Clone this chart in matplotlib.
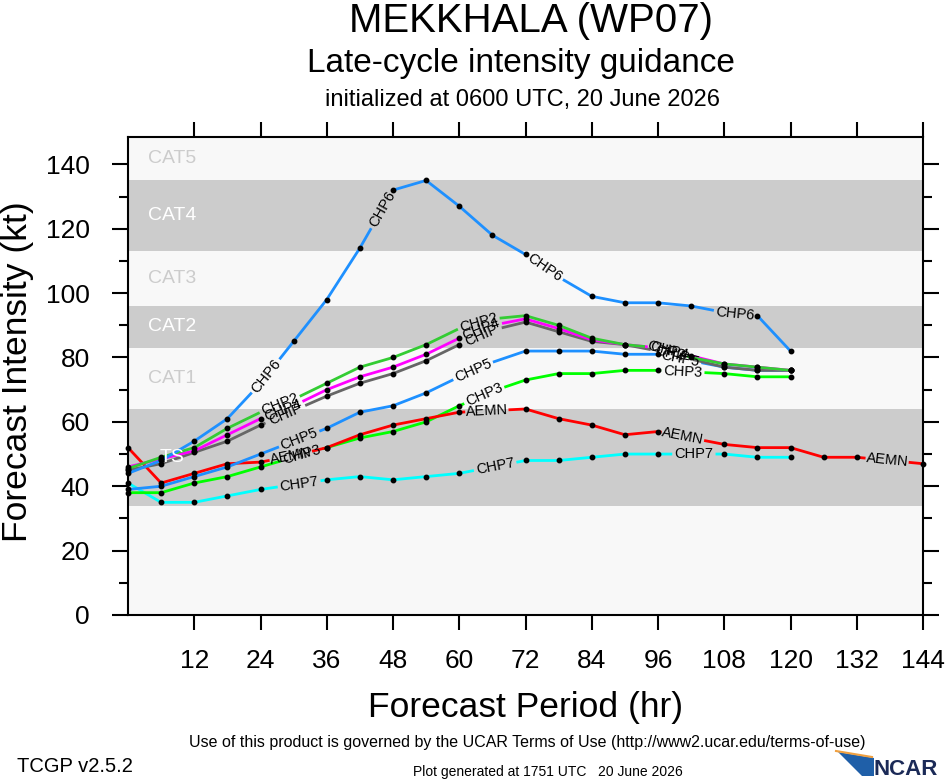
import numpy as np
import matplotlib.pyplot as plt
from matplotlib.patches import Polygon

plt.rcParams['font.family'] = ['Liberation Sans', 'DejaVu Sans']

# forecast hours
hours = np.arange(0, 121, 6)
hours_aemn = np.arange(0, 145, 6)

# intensity guidance (kt)
chp6 = [44, 48, 54, 61, 72, 85, 98, 114, 132, 135, 127, 118, 112, 105, 99, 97, 97, 96, 94, 93, 82]
chp2 = [45.5, 49, 52, 58, 63, 67, 72, 77, 80, 84, 89, 92, 93, 90, 86, 84, 83, 80, 78, 77, 76]
chp4 = [46, 48.5, 51, 56, 61, 65, 70, 74, 77, 81, 86, 90, 92, 89, 85.5, 84, 83, 80.5, 78, 77, 76]
chip = [45, 47, 50.5, 54, 59, 63.5, 68, 72, 75, 79, 84, 88.5, 91, 88, 85, 84, 82, 79.5, 77, 76, 76]
chp5 = [39, 40, 43, 46, 50, 54, 58, 63, 65, 69, 74, 78.5, 82, 82, 82, 81, 81, 79, 77, 76, 76]
chp3 = [38, 38, 41, 43, 46, 49, 52, 55, 57, 60, 65, 69.5, 73, 75, 75, 76, 76, 75.5, 75, 74, 74]
aemn = [52, 41, 44, 47, 47.5, 49.5, 52, 56, 59, 61, 63, 63.5, 64, 61, 59, 56, 57, 55, 53, 52, 52,
        49, 49, 48, 47]
chp7 = [41, 35, 35, 37, 39, 40.5, 42, 43, 42, 43, 44, 46, 48, 48, 49, 50, 50, 50, 50, 49, 49]

# intensity bands
band_names = ['TS', 'CAT1', 'CAT2', 'CAT3', 'CAT4', 'CAT5']
band_lo = [34, 64, 83, 96, 113, 135]
band_hi = [64, 83, 96, 113, 135, 148.5]

# name, x, y, colour, hours where the line label sits
series = [
    ('CHP7', hours, chp7, '#00ffff', [31, 66.5, 102.5]),
    ('CHP3', hours, chp3, '#00ff00', [31.5, 64.5, 100.5]),
    ('AEMN', hours_aemn, aemn, '#ff0000', [29.5, 65, 100.5, 137.5]),
    ('CHP5', hours, chp5, '#1e90ff', [31, 62.5, 100]),
    ('CHIP', hours, chip, '#666666', [28.5, 64, 98.5]),
    ('CHP4', hours, chp4, '#ff00ff', [28, 64, 98]),
    ('CHP2', hours, chp2, '#33cc33', [27.5, 63.5, 97.5]),
    ('CHP6', hours, chp6, '#1e90ff', [25, 46, 75.5, 110]),
]

fig = plt.figure(figsize=(9.46, 7.8), dpi=100)
ax = fig.add_axes([128 / 946, 165 / 780, 795 / 946, 478 / 780])
ax.set_facecolor('#f8f8f8')
ax.set_xlim(0, 144)
ax.set_ylim(0, 148.5)

for i, (name, lo, hi) in enumerate(zip(band_names, band_lo, band_hi)):
    if i % 2 == 0:
        ax.axhspan(lo, hi, color='#cccccc', lw=0, zorder=0)
        tcol = 'white'
    else:
        tcol = '#cccccc'
    ymid = (lo + hi) / 2 if name != 'CAT5' else 141.7
    ax.text(8, ymid, name, color=tcol, fontsize=14, ha='center', va='center', zorder=6)

to_data = ax.transData.inverted()

for name, hx, vals, col, lab_hours in series:
    pts = ax.transData.transform(np.column_stack([hx, vals]))
    seg = np.hypot(np.diff(pts[:, 0]), np.diff(pts[:, 1]))
    s = np.concatenate([[0], np.cumsum(seg)])
    gaps = []
    for hl in lab_hours:
        k = np.searchsorted(hx, hl) - 1
        k = min(max(k, 0), len(hx) - 2)
        f = (hl - hx[k]) / (hx[k + 1] - hx[k])
        p = pts[k] + f * (pts[k + 1] - pts[k])
        d = pts[k + 1] - pts[k]
        ang = np.degrees(np.arctan2(d[1], d[0]))
        sl = s[k] + f * seg[k]
        xy = to_data.transform(p)
        ax.text(xy[0], xy[1], name, fontsize=10.5, rotation=ang, rotation_mode='anchor',
                ha='center', va='center', zorder=5)
        half = 0.5 * 10.5 * 100 / 72 * len(name) * 0.64 + 3
        gaps.append((sl - half, sl + half))
    # line pieces outside the label gaps
    pieces = []
    start = 0.0
    for g0, g1 in sorted(gaps) + [(s[-1], s[-1])]:
        if g0 > start:
            ss = np.concatenate([[start], s[(s > start) & (s < g0)], [g0]])
            xs = np.interp(ss, s, pts[:, 0])
            ys = np.interp(ss, s, pts[:, 1])
            pieces.append(to_data.transform(np.column_stack([xs, ys])))
        start = max(start, g1)
    for pc in pieces:
        ax.plot(pc[:, 0], pc[:, 1], color=col, lw=2, solid_capstyle='butt', zorder=3)
    keep = [j for j in range(len(hx)) if not any(g0 < s[j] < g1 for g0, g1 in gaps)]
    ax.plot(np.array(hx)[keep], np.array(vals)[keep], 'o', color='black', ms=3.2, zorder=4,
            clip_on=False)

ax.set_xticks(np.arange(12, 145, 12))
ax.set_yticks(np.arange(0, 141, 20))
ax.set_yticks(np.arange(10, 141, 20), minor=True)
ax.tick_params(axis='x', which='major', direction='out', length=11, width=1.5, labelsize=19,
               pad=13.5, top=True)
ax.tick_params(axis='y', which='major', direction='out', length=11.5, width=1.5, labelsize=19,
               pad=16, right=True)
ax.tick_params(axis='y', which='minor', direction='out', length=6.5, width=1.5, right=True)
for sp in ax.spines.values():
    sp.set_linewidth(1.5)

fig.text(531 / 946, 1 - 32 / 780, 'MEKKHALA (WP07)', fontsize=29, ha='center', va='baseline')
fig.text(521 / 946, 1 - 72 / 780, 'Late-cycle intensity guidance', fontsize=24, ha='center',
         va='baseline')
fig.text(522 / 946, 1 - 106 / 780, 'initialized at 0600 UTC, 20 June 2026', fontsize=17,
         ha='center', va='baseline')
fig.text(526 / 946, 1 - 717 / 780, 'Forecast Period (hr)', fontsize=25.5, ha='center',
         va='baseline')
fig.text(18 / 946, 1 - 372 / 780, 'Forecast Intensity (kt)', fontsize=25.5, ha='center',
         va='center', rotation=90)
fig.text(527 / 946, 1 - 747 / 780,
         'Use of this product is governed by the UCAR Terms of Use (http://www2.ucar.edu/terms-of-use)',
         fontsize=11.5, ha='center', va='baseline')
fig.text(17 / 946, 1 - 772 / 780, 'TCGP v2.5.2', fontsize=14.5, ha='left', va='baseline')
fig.text(548 / 946, 1 - 776 / 780, 'Plot generated at 1751 UTC   20 June 2026', fontsize=10,
         ha='center', va='baseline')

# NCAR logo
fig.patches.append(Polygon([[838 / 946, 1 - 752 / 780], [874 / 946, 1 - 758 / 780],
                            [874 / 946, 1 - 776 / 780], [862 / 946, 1 - 776 / 780]],
                           closed=True, transform=fig.transFigure,
                           facecolor='#1f5fa8', edgecolor='none'))
fig.lines.append(plt.Line2D([836 / 946, 872 / 946], [1 - 751 / 780, 1 - 757 / 780],
                            transform=fig.transFigure, color='#f0a040', lw=1.5))
fig.text(938 / 946, 1 - 775 / 780, 'NCAR', fontsize=16, fontweight='bold', color='#1b2a57',
         ha='right', va='baseline')

fig.savefig('out.png', dpi=100)
